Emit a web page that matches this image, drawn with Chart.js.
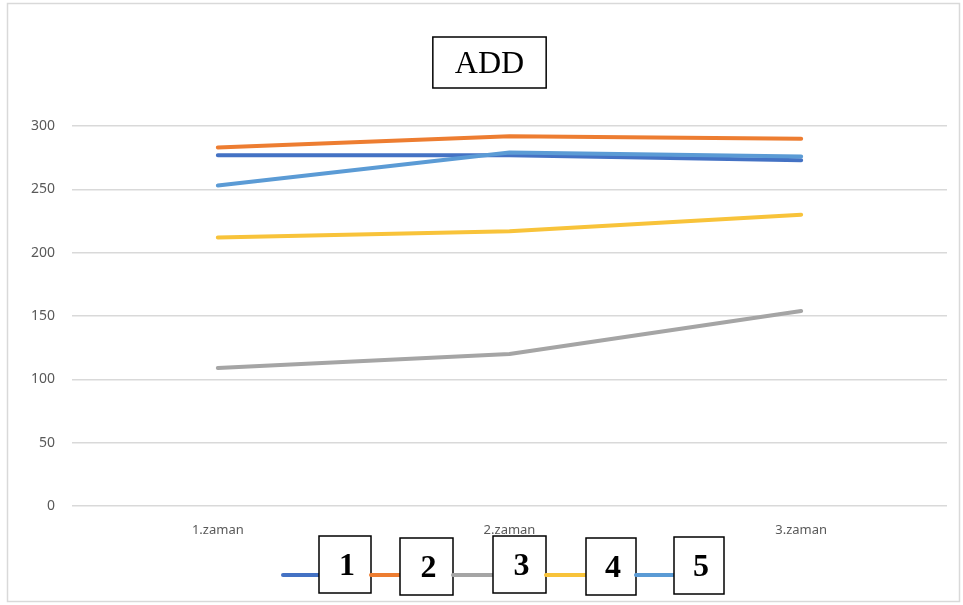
<!DOCTYPE html>
<html>
<head>
<meta charset="utf-8">
<style>
  html, body { margin: 0; padding: 0; background: #fff; }
  #wrap { width: 963px; height: 605px; }
</style>
<script src="https://cdn.jsdelivr.net/npm/chart.js@4.4.1/dist/chart.umd.min.js"></script>
</head>
<body>
<div id="wrap"><canvas id="addChart" width="963" height="605"></canvas></div>
<script>
// data
const categories = ['1.zaman', '2.zaman', '3.zaman'];
const seriesNames = ['1', '2', '3', '4', '5'];
const s1 = [277, 277, 273];
const s2 = [283, 292, 290];
const s3 = [109, 120, 154];
const s4 = [212, 217, 230];
const s5 = [253, 279, 276];
const yTicks = [0, 50, 100, 150, 200, 250, 300];
const titleText = 'ADD';

const colors = ['#4472C4', '#ED7D31', '#A5A5A5', '#F8C33A', '#5B9BD5'];
const allSeries = [s1, s2, s3, s4, s5];

// legend pieces are hand-placed text boxes in the original, so sizes vary a bit
const legendLine = [36, 29, 40, 40, 38];
const legendBoxW = [52, 53, 53, 50, 50];
const legendBoxTop = [536, 538, 536, 538, 537];

document.addEventListener('DOMContentLoaded', function() {
    const ctx = document.getElementById('addChart').getContext('2d');

    // frame, boxed title and boxed legend like the excel picture
    const decorPlugin = {
        id: 'decor',
        beforeDraw(chart) {
            const c = chart.ctx;
            c.save();
            c.fillStyle = '#fff';
            c.fillRect(0, 0, chart.width, chart.height);
            c.strokeStyle = '#d9d9d9';
            c.lineWidth = 1.5;
            c.strokeRect(7.5, 3.5, chart.width - 11, chart.height - 7);
            c.restore();
        },
        afterDraw(chart) {
            const c = chart.ctx;
            const area = chart.chartArea;
            c.save();
            // title box
            c.font = '32px "Liberation Serif", "Times New Roman", serif';
            const tw = c.measureText(titleText).width;
            const bw = tw + 44, bh = 51;
            const cx = (area.left + area.right) / 2 - 20;
            const bx = cx - bw / 2, by = 37;
            c.fillStyle = '#fff';
            c.fillRect(bx, by, bw, bh);
            c.strokeStyle = '#000';
            c.lineWidth = 1.5;
            c.strokeRect(bx, by, bw, bh);
            c.fillStyle = '#000';
            c.textAlign = 'center';
            c.textBaseline = 'middle';
            c.fillText(titleText, cx, by + bh / 2 + 2);

            // legend
            let total = 0;
            legendLine.forEach((l, i) => { total += l + legendBoxW[i]; });
            let x = (area.left + area.right) / 2 - total / 2 - 6;
            const ly = 575;
            chart.data.datasets.forEach((ds, i) => {
                const lineLen = legendLine[i], boxW = legendBoxW[i], boxH = 57;
                c.strokeStyle = ds.borderColor;
                c.lineWidth = 4;
                c.lineCap = 'round';
                c.beginPath();
                c.moveTo(x, ly);
                c.lineTo(x + lineLen + 2, ly);
                c.stroke();
                const kx = x + lineLen;
                const ky = legendBoxTop[i];
                c.fillStyle = '#fff';
                c.fillRect(kx, ky, boxW, boxH);
                c.strokeStyle = '#000';
                c.lineWidth = 1.5;
                c.lineCap = 'butt';
                c.strokeRect(kx, ky, boxW, boxH);
                c.fillStyle = '#000';
                c.font = 'bold 32px "Liberation Serif", "Times New Roman", serif';
                c.textAlign = 'center';
                c.textBaseline = 'middle';
                c.fillText(ds.label, kx + boxW / 2 + 2, ky + boxH / 2 + 2);
                x += lineLen + boxW;
            });
            c.restore();
        }
    };

    const addChart = new Chart(ctx, {
        type: 'line',
        data: {
            labels: categories,
            datasets: allSeries.map((vals, i) => ({
                label: seriesNames[i],
                data: vals,
                borderColor: colors[i],
                backgroundColor: colors[i],
                borderWidth: 4,
                borderCapStyle: 'round',
                borderJoinStyle: 'round',
                pointRadius: 0,
                tension: 0,
                order: allSeries.length - i
            }))
        },
        options: {
            responsive: false,
            animation: false,
            layout: {
                padding: { left: 0, right: 16, top: 126, bottom: 60 }
            },
            plugins: {
                legend: { display: false },
                title: { display: false },
                tooltip: { enabled: false }
            },
            scales: {
                x: {
                    offset: true,
                    grid: { display: false, drawTicks: false },
                    border: { display: false },
                    ticks: {
                        color: '#595959',
                        padding: 16,
                        font: { family: '"Noto Sans", "Liberation Sans", sans-serif', size: 13 }
                    },
                    afterFit(scale) { scale.height = 39; }
                },
                y: {
                    min: yTicks[0],
                    max: yTicks[yTicks.length - 1],
                    afterBuildTicks(scale) {
                        scale.ticks = yTicks.map(v => ({ value: v }));
                    },
                    grid: { color: '#d9d9d9', lineWidth: 1.5, drawTicks: false },
                    border: { display: false },
                    ticks: {
                        color: '#595959',
                        padding: 17,
                        font: { family: '"Noto Sans", "Liberation Sans", sans-serif', size: 14 }
                    },
                    afterFit(scale) { scale.width = 72; }
                }
            }
        },
        plugins: [decorPlugin]
    });
});
</script>
</body>
</html>
